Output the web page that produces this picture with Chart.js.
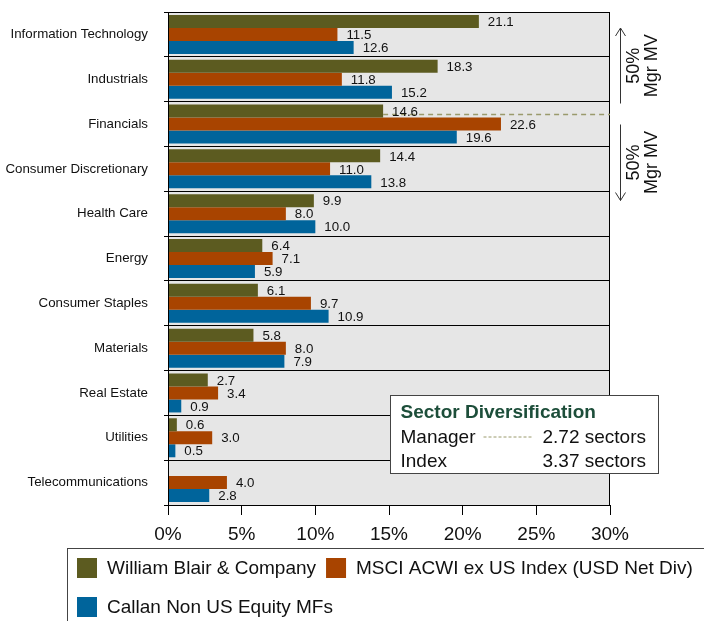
<!DOCTYPE html>
<html>
<head>
<meta charset="utf-8">
<script src="https://cdn.jsdelivr.net/npm/chart.js@4/dist/chart.umd.min.js"></script>
<style>
  html, body { margin: 0; padding: 0; background: #fff; }
  #wrap { width: 704px; height: 621px; }
</style>
</head>
<body>
<div id="wrap"><canvas id="sector-chart" width="704" height="621"></canvas></div>
<script>
const FONT = "'Liberation Sans', Arial, sans-serif";

// Sector weights (%) per series
const sectors = [
  "Information Technology", "Industrials", "Financials", "Consumer Discretionary",
  "Health Care", "Energy", "Consumer Staples", "Materials", "Real Estate",
  "Utilities", "Telecommunications"
];
const blairWeights = [21.1, 18.3, 14.6, 14.4, 9.9, 6.4, 6.1, 5.8, 2.7, 0.6, null];
const msciWeights = [11.5, 11.8, 22.6, 11.0, 8.0, 7.1, 9.7, 8.0, 3.4, 3.0, 4.0];
const callanWeights = [12.6, 15.2, 19.6, 13.8, 10.0, 5.9, 10.9, 7.9, 0.9, 0.5, 2.8];

const seriesNames = [
  "William Blair & Company",
  "MSCI ACWI ex US Index (USD Net Div)",
  "Callan Non US Equity MFs"
];
const seriesColors = ["#5c5b20", "#a84400", "#00649b"];

const xTickValues = [0, 5, 10, 15, 20, 25, 30];

// Sector where the manager's cumulative market value crosses 50%
const medianSector = "Financials";
const diversificationRows = [["Manager", "2.72 sectors"], ["Index", "3.37 sectors"]];

const plotBg = "#e6e6e6";
const medianColor = "#9a9a6c";

function drawArrow(ctx, x, y1, y2) {
  const dir = y2 < y1 ? -1 : 1;
  ctx.beginPath();
  ctx.moveTo(x, y1);
  ctx.lineTo(x, y2);
  ctx.moveTo(x - 5, y2 - dir * 8);
  ctx.lineTo(x, y2);
  ctx.lineTo(x + 5, y2 - dir * 8);
  ctx.stroke();
}

function drawRotatedLabel(ctx, x, y) {
  ctx.save();
  ctx.translate(x, y);
  ctx.rotate(-Math.PI / 2);
  ctx.fillStyle = "#111";
  ctx.font = "18px " + FONT;
  ctx.textAlign = "center";
  ctx.textBaseline = "middle";
  ctx.fillText("50%", 0, -9);
  ctx.fillText("Mgr MV", 0, 9);
  ctx.restore();
}

const decorPlugin = {
  id: "decor",
  beforeDraw(chart) {
    const { ctx, chartArea: a } = chart;
    ctx.save();
    ctx.fillStyle = plotBg;
    ctx.fillRect(a.left, a.top, a.right - a.left, a.bottom - a.top);
    ctx.restore();
  },
  afterDraw(chart) {
    const { ctx, chartArea: a } = chart;
    ctx.save();

    // frame round the plot
    ctx.strokeStyle = "#000";
    ctx.lineWidth = 1;
    ctx.strokeRect(a.left + 0.5, a.top + 0.5, a.right - a.left - 1, a.bottom - a.top);

    // dashed 50% line from the manager bar
    const mi = sectors.indexOf(medianSector);
    const mBar = chart.getDatasetMeta(0).data[mi];
    const lineY = Math.round(mBar.y + 3) + 0.5;
    ctx.strokeStyle = medianColor;
    ctx.lineWidth = 1.3;
    ctx.setLineDash([5, 4]);
    ctx.beginPath();
    ctx.moveTo(mBar.x, lineY);
    ctx.lineTo(a.right, lineY);
    ctx.stroke();
    ctx.setLineDash([]);

    // value labels
    ctx.fillStyle = "#111";
    ctx.font = "13.3px " + FONT;
    ctx.textAlign = "left";
    ctx.textBaseline = "middle";
    chart.data.datasets.forEach((ds, di) => {
      chart.getDatasetMeta(di).data.forEach((bar, i) => {
        const v = ds.data[i];
        if (v === null || v === undefined) return;
        ctx.fillText(v.toFixed(1), bar.x + 9, bar.y + 1);
      });
    });

    // arrows and rotated labels on the right
    ctx.strokeStyle = "#333";
    ctx.lineWidth = 1;
    const ax = a.right + 10.5;
    const upTop = a.top + 16, upBottom = lineY - 11;
    const downTop = lineY + 10, downBottom = lineY + 86;
    drawArrow(ctx, ax, upBottom, upTop);
    drawArrow(ctx, ax, downTop, downBottom);
    drawRotatedLabel(ctx, ax + 23, (upTop + upBottom) / 2);
    drawRotatedLabel(ctx, ax + 23, (downTop + downBottom) / 2);

    // sector diversification box
    const bx = a.left + 222.5, by = 395.5, bw = 268, bh = 78;
    ctx.fillStyle = "#fff";
    ctx.fillRect(bx, by, bw, bh);
    ctx.strokeStyle = "#444";
    ctx.strokeRect(bx, by, bw, bh);
    ctx.fillStyle = "#1d4e3a";
    ctx.font = "bold 19px " + FONT;
    ctx.fillText("Sector Diversification", bx + 10, by + 17);
    ctx.font = "19px " + FONT;
    ctx.fillStyle = "#111";
    diversificationRows.forEach((row, i) => {
      const ry = by + 42 + i * 24;
      ctx.fillText(row[0], bx + 10, ry);
      ctx.fillText(row[1], bx + 152, ry);
    });
    ctx.strokeStyle = medianColor;
    ctx.setLineDash([3, 2]);
    ctx.beginPath();
    ctx.moveTo(bx + 93, by + 41.5);
    ctx.lineTo(bx + 142, by + 41.5);
    ctx.stroke();
    ctx.setLineDash([]);

    // legend
    const lx = 67.5, ly = 548.5;
    ctx.strokeStyle = "#444";
    ctx.strokeRect(lx, ly, 700, 120);
    ctx.font = "19px " + FONT;
    let cx = lx + 9.5, cy = ly + 9.5;
    chart.data.datasets.forEach((ds) => {
      const w = 30 + ctx.measureText(ds.label).width;
      if (cx + w > chart.width) {
        cx = lx + 9.5;
        cy += 39;
      }
      ctx.fillStyle = ds.backgroundColor;
      ctx.fillRect(cx, cy, 20, 20);
      ctx.fillStyle = "#111";
      ctx.fillText(ds.label, cx + 30, cy + 11);
      cx += w + 10;
    });

    ctx.restore();
  }
};

function initializeChart() {
  const ctx = document.getElementById("sector-chart").getContext("2d");
  const series = [blairWeights, msciWeights, callanWeights];
  new Chart(ctx, {
    type: "bar",
    data: {
      labels: sectors,
      datasets: series.map((d, i) => ({
        label: seriesNames[i],
        data: d,
        backgroundColor: seriesColors[i],
        borderWidth: 0,
        categoryPercentage: 0.87,
        barPercentage: 1.0
      }))
    },
    options: {
      indexAxis: "y",
      responsive: false,
      animation: false,
      layout: { padding: { top: 12, right: 94, bottom: 71, left: 0 } },
      plugins: { legend: { display: false }, tooltip: { enabled: false } },
      scales: {
        x: {
          min: 0,
          max: 30,
          afterBuildTicks: (scale) => {
            scale.ticks = xTickValues.map((v) => ({ value: v }));
          },
          afterFit: (scale) => { scale.height = 45; },
          ticks: {
            callback: (v) => v + "%",
            font: { family: FONT, size: 19 },
            color: "#111",
            padding: 8,
            maxRotation: 0
          },
          grid: { drawOnChartArea: false, tickLength: 10, color: "#000" },
          border: { color: "#000" }
        },
        y: {
          afterFit: (scale) => {
            scale.width = 168;
            scale.paddingTop = 0;
            scale.paddingBottom = 0;
          },
          ticks: {
            font: { family: FONT, size: 13.3 },
            color: "#111",
            padding: 16,
            autoSkip: false
          },
          grid: { offset: true, color: "#000", tickLength: 4, lineWidth: 1 },
          border: { color: "#000" }
        }
      }
    },
    plugins: [decorPlugin]
  });
}

initializeChart();
</script>
</body>
</html>
